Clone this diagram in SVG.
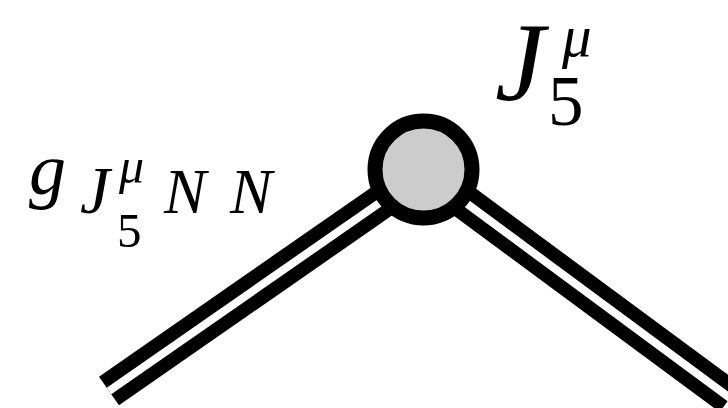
<svg xmlns="http://www.w3.org/2000/svg" width="728" height="408" viewBox="0 0 728 408">
<style>
.outer{fill:none;stroke:#000;stroke-width:35;stroke-linecap:butt}
.inner{fill:none;stroke:#fff;stroke-width:8;stroke-linecap:butt}
.vtx{fill:#cccccc;stroke:#000;stroke-width:15}
</style>
<rect width="728" height="408" fill="#fff"/>
<g id="connectors">
  <path class="outer" d="M424 172 L109 391"/>
  <path class="inner" d="M424 172 L109 391"/>
  <path class="outer" d="M424 172 L730 398"/>
  <path class="inner" d="M424 172 L730 398"/>
</g>
<g id="vertex">
  <circle class="vtx" cx="423.5" cy="169.5" r="48.5"/>
</g>
<g font-family="'Liberation Serif', 'Times New Roman', 'DejaVu Serif', serif" fill="#000">
<g id="label-current">
  <text font-style="italic" x="495" y="100" font-size="112">J</text>
  <text font-style="italic" x="562" y="56" font-size="59">μ</text>
  <text x="548" y="125" font-size="71">5</text>
</g>
<g id="label-coupling">
  <text font-style="italic" x="29" y="194" font-size="74">g</text>
  <text font-style="italic" x="80" y="213" font-size="67">J</text>
  <text font-style="italic" x="119" y="183" font-size="50">μ</text>
  <text x="117" y="247" font-size="49">5</text>
  <text font-style="italic" x="164" y="213" font-size="63">N</text>
  <text font-style="italic" x="230" y="213" font-size="63">N</text>
</g>
</g>
</svg>
